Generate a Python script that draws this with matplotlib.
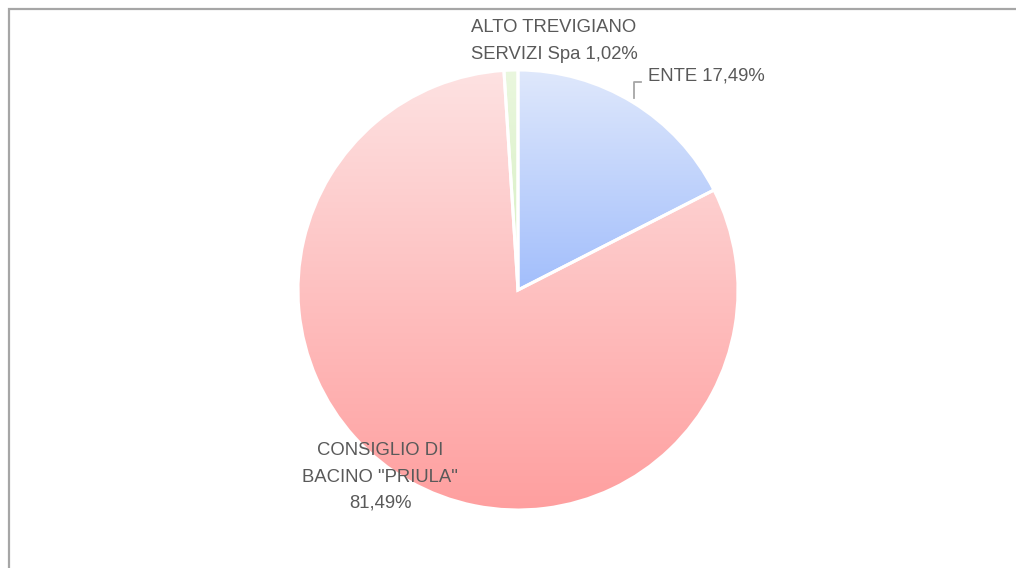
import numpy as np
import matplotlib
matplotlib.use("Agg")
import matplotlib.pyplot as plt
from matplotlib.colors import LinearSegmentedColormap

# dati
labels = ['ENTE', 'CONSIGLIO DI\nBACINO "PRIULA"', 'ALTO TREVIGIANO\nSERVIZI Spa']
values = [17.49, 81.49, 1.02]
pct_labels = ['17,49%', '81,49%', '1,02%']

# colori gradiente (alto -> basso)
grad_colors = [
    ('#dfe8fc', '#a2befb'),
    ('#fde2e2', '#ff9f9f'),
    ('#eaf7de', '#d5efc0'),
]

W, H = 1016, 568
fig = plt.figure(figsize=(W / 100, H / 100), dpi=100)
ax = fig.add_axes([0, 0, 1, 1])

cx, cy, r = 518, H - 290, 220

wedges, _ = ax.pie(values, startangle=90, counterclock=False,
                   center=(cx, cy), radius=r, frame=True,
                   wedgeprops=dict(edgecolor='white', linewidth=2.2))

# riempimento a gradiente verticale per ogni spicchio
for w, (c_top, c_bot) in zip(wedges, grad_colors):
    w.set_facecolor('none')
    bb = w.get_path().get_extents(w.get_transform())
    # bbox in pixel -> data (assi 1:1 con pixel)
    x0, y0 = ax.transData.inverted().transform((bb.x0, bb.y0))
    x1, y1 = ax.transData.inverted().transform((bb.x1, bb.y1))
    cmap = LinearSegmentedColormap.from_list('g', [c_bot, c_top])
    grad = np.linspace(0, 1, 256).reshape(-1, 1)
    im = ax.imshow(grad, cmap=cmap, origin='lower', aspect='auto',
                   extent=(x0, x1, y0, y1), zorder=0.5, interpolation='bilinear')
    im.set_clip_path(w)
    w.set_zorder(1)

ax.set_xlim(0, W)
ax.set_ylim(0, H)
ax.axis('off')

# cornice
ax.plot([8.5, 8.5, W + 5], [-5, H - 8.5, H - 8.5], color='#a6a6a6', lw=1.6,
        solid_joinstyle='miter', clip_on=False)

font = dict(family=['Liberation Sans', 'DejaVu Sans'], fontsize=13.3, color='#595959')

# etichette
ax.text(554, H - 41, labels[2] + ' ' + pct_labels[2], ha='center', va='center',
        linespacing=1.7, **font)
ax.text(648, H - 76, labels[0] + ' ' + pct_labels[0], ha='left', va='center', **font)
ax.text(380, H - 477, labels[1] + '\n' + pct_labels[1], ha='center', va='center',
        linespacing=1.7, **font)

# linea guida ENTE
ax.plot([634, 634, 641], [H - 98, H - 82, H - 82], color='#a6a6a6', lw=1.3)

fig.savefig('out.png', dpi=100)
